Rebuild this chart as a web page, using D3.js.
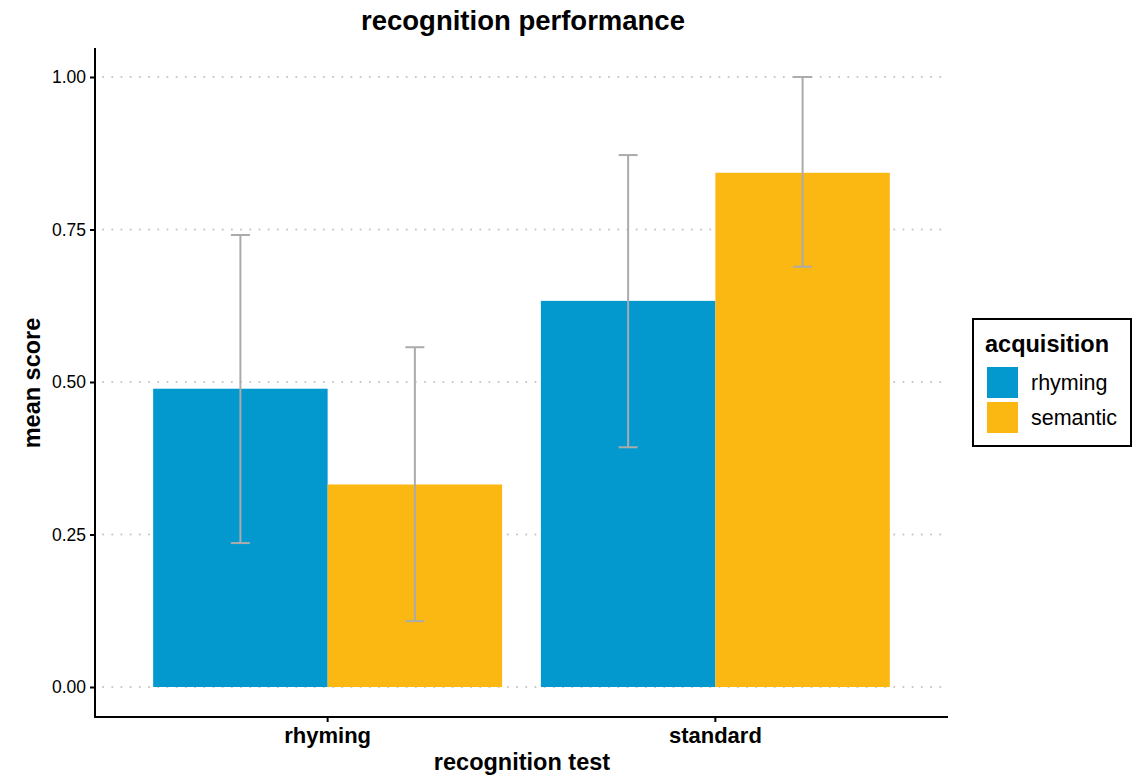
<!DOCTYPE html>
<html>
<head>
<meta charset="utf-8">
<script src="https://cdn.jsdelivr.net/npm/d3@7"></script>
<style>
  body { margin: 0; background: #fff; }
  svg { font-family: "Liberation Sans", Arial, Helvetica, sans-serif; }
</style>
</head>
<body>
<svg id="chart" width="1139" height="776"></svg>
<script>
// Recognition test groups and acquisition conditions
const tests = ["rhyming", "standard"];
const acquisitions = ["rhyming", "semantic"];
const colors = ["#0499CE", "#FCB812"];

// Mean scores per test, one array per acquisition condition
const meanRhyming = [0.489, 0.633];
const meanSemantic = [0.332, 0.843];
// Error bar bounds (lower, upper)
const lowerRhyming = [0.236, 0.393];
const upperRhyming = [0.741, 0.872];
const lowerSemantic = [0.108, 0.689];
const upperSemantic = [0.557, 1.000];

const yTicks = [0, 0.25, 0.5, 0.75, 1.0];

const rows = [];
tests.forEach((t, i) => {
  rows.push({ test: t, acq: "rhyming", mean: meanRhyming[i], lo: lowerRhyming[i], hi: upperRhyming[i] });
  rows.push({ test: t, acq: "semantic", mean: meanSemantic[i], lo: lowerSemantic[i], hi: upperSemantic[i] });
});

const svg = d3.select("#chart");
const plotLeft = 95, plotRight = 948, plotTop = 48, plotBottom = 717;

const x0 = d3.scaleBand().domain(tests).range([plotLeft, plotRight]).paddingInner(0.1).paddingOuter(0.15);
const x1 = d3.scaleBand().domain(acquisitions).range([0, x0.bandwidth()]);
const y = d3.scaleLinear().domain([0, 1]).range([687, 77]);
const color = d3.scaleOrdinal().domain(acquisitions).range(colors);

// dotted horizontal gridlines
svg.append("g").selectAll("line").data(yTicks).join("line")
  .attr("x1", plotLeft + 8).attr("x2", plotRight - 2)
  .attr("y1", d => y(d)).attr("y2", d => y(d))
  .attr("stroke", "#c4c4c4").attr("stroke-width", 2)
  .attr("stroke-dasharray", "0.1 9.1").attr("stroke-linecap", "round");

// bars
svg.append("g").selectAll("rect").data(rows).join("rect")
  .attr("x", d => x0(d.test) + x1(d.acq))
  .attr("width", x1.bandwidth())
  .attr("y", d => y(d.mean))
  .attr("height", d => y(0) - y(d.mean))
  .attr("fill", d => color(d.acq));

// error bars
const eb = svg.append("g").attr("stroke", "#ababab").attr("stroke-width", 2).attr("fill", "none");
rows.forEach(d => {
  const cx = x0(d.test) + x1(d.acq) + x1.bandwidth() / 2;
  eb.append("line").attr("x1", cx).attr("x2", cx).attr("y1", y(d.lo)).attr("y2", y(d.hi));
  eb.append("line").attr("x1", cx - 9.5).attr("x2", cx + 9.5).attr("y1", y(d.hi)).attr("y2", y(d.hi));
  eb.append("line").attr("x1", cx - 9.5).attr("x2", cx + 9.5).attr("y1", y(d.lo)).attr("y2", y(d.lo));
});

// y axis
const yAxis = svg.append("g").attr("transform", `translate(${plotLeft},0)`)
  .call(d3.axisLeft(y).tickValues(yTicks).tickFormat(d3.format(".2f")).tickSizeOuter(0).tickSize(5).tickPadding(4));
yAxis.select(".domain").attr("d", `M0,${plotTop}V${plotBottom}`).attr("stroke", "#000").attr("stroke-width", 2);
yAxis.selectAll(".tick line").attr("stroke", "#000").attr("stroke-width", 2);
yAxis.selectAll(".tick text").attr("font-size", 17.5).attr("fill", "#000")
  .attr("font-family", "'Liberation Sans', Arial, sans-serif");

// x axis
const xAxis = svg.append("g").attr("transform", `translate(0,${plotBottom})`)
  .call(d3.axisBottom(x0).tickSizeOuter(0).tickSize(5).tickPadding(6));
xAxis.select(".domain").attr("d", `M${plotLeft - 1},0H${plotRight}`).attr("stroke", "#000").attr("stroke-width", 2);
xAxis.selectAll(".tick line").attr("stroke", "#000").attr("stroke-width", 2);
xAxis.selectAll(".tick text").attr("font-size", 22).attr("font-weight", "bold").attr("fill", "#000")
  .attr("font-family", "'Liberation Sans', Arial, sans-serif")
  .attr("y", 0).attr("dy", 26);

// titles
svg.append("text").attr("x", 523).attr("y", 30).attr("text-anchor", "middle")
  .attr("font-size", 27.5).attr("font-weight", "bold").text("recognition performance");
svg.append("text").attr("x", 522).attr("y", 770).attr("text-anchor", "middle")
  .attr("font-size", 23.5).attr("font-weight", "bold").text("recognition test");
svg.append("text").attr("transform", "translate(40,383) rotate(-90)").attr("text-anchor", "middle")
  .attr("font-size", 23.5).attr("font-weight", "bold").text("mean score");

// legend
const lg = svg.append("g");
lg.append("rect").attr("x", 973).attr("y", 319).attr("width", 158).attr("height", 127)
  .attr("fill", "#fff").attr("stroke", "#000").attr("stroke-width", 2);
lg.append("text").attr("x", 985).attr("y", 352).attr("font-size", 23.5).attr("font-weight", "bold").text("acquisition");
acquisitions.forEach((a, i) => {
  lg.append("rect").attr("x", 987).attr("y", 367 + i * 35).attr("width", 31).attr("height", 31).attr("fill", color(a));
  lg.append("text").attr("x", 1031).attr("y", 390 + i * 35).attr("font-size", 21.5).text(a);
});
</script>
</body>
</html>
